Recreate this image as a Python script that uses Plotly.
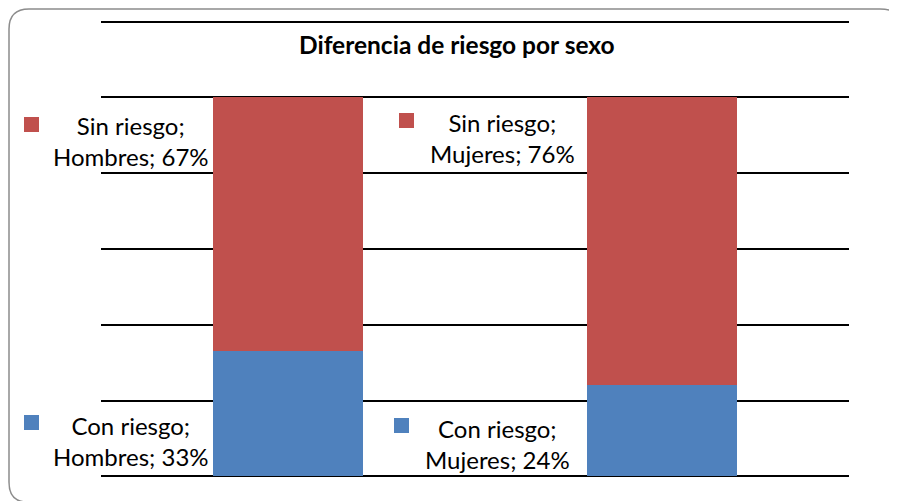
import plotly.graph_objects as go

categories = ["Hombres", "Mujeres"]
series_names = ["Con riesgo", "Sin riesgo"]
con_riesgo = [0.33, 0.24]
sin_riesgo = [0.67, 0.76]
title_text = "Diferencia de riesgo por sexo"

BLUE = "#4F81BD"
RED = "#C0504D"
FONT = "Lato"

OFF = 8  # default page body margin
W, H = 897 - OFF, 501 - OFF
L, R, T, B = 101 - OFF, 849 - OFF, 20 - OFF, 478 - OFF  # plot area in figure pixels


def px(x):
    """page pixel x -> paper coordinate"""
    return (x - OFF - L) / (R - L)


def py(y):
    """page pixel y -> paper coordinate"""
    return (B - (y - OFF)) / (B - T)


fig = go.Figure()
fig.add_trace(go.Bar(x=categories, y=con_riesgo, name=series_names[0],
                     marker=dict(color=BLUE, line=dict(width=0))))
fig.add_trace(go.Bar(x=categories, y=sin_riesgo, name=series_names[1],
                     marker=dict(color=RED, line=dict(width=0))))

shapes = []
# rounded chart border (only left side, top and corners fall inside the view)
path = (f"M {px(27)},{py(502)} Q {px(9)},{py(502)} {px(9)},{py(482)} "
        f"L {px(9)},{py(29)} Q {px(9)},{py(9)} {px(29)},{py(9)} "
        f"L {px(880)},{py(9)} Q {px(894)},{py(9)} {px(897)},{py(16)}")
shapes.append(dict(type="path", path=path, xref="paper", yref="paper",
                   line=dict(color="#8c8c8c", width=1.5), layer="below"))

annotations = []
# data labels with legend keys
label_specs = [
    # (series name, category, value, color, key x, key y, text center x, text center y) in page px
    (series_names[1], categories[0], sin_riesgo[0], RED, 24, 117, 131, 141),
    (series_names[1], categories[1], sin_riesgo[1], RED, 399, 113, 502, 138),
    (series_names[0], categories[0], con_riesgo[0], BLUE, 24, 415, 131, 441),
    (series_names[0], categories[1], con_riesgo[1], BLUE, 394, 418, 497, 444),
]
for name, cat, val, col, kx, ky, tx, ty in label_specs:
    shapes.append(dict(type="rect", xref="paper", yref="paper",
                       x0=px(kx), x1=px(kx + 15), y0=py(ky + 15), y1=py(ky),
                       fillcolor=col, line=dict(width=0)))
    annotations.append(dict(text=f"{name};<br>{cat}; {round(val * 100)}%",
                            xref="paper", yref="paper", x=px(tx), y=py(ty),
                            xanchor="center", yanchor="middle", align="center",
                            showarrow=False,
                            font=dict(family=FONT, size=24, color="black")))

annotations.append(dict(text=f"<b>{title_text}</b>", xref="paper", yref="paper",
                        x=px(457), y=py(45), xanchor="center", yanchor="middle",
                        showarrow=False,
                        font=dict(family=FONT, size=24.5, color="black")))

fig.update_layout(
    width=W, height=H,
    margin=dict(l=L, r=W - R, t=T, b=H - B, pad=0),
    paper_bgcolor="rgba(0,0,0,0)", plot_bgcolor="rgba(0,0,0,0)",
    barmode="stack", bargap=0.6,
    showlegend=False,
    xaxis=dict(showticklabels=False, showgrid=False, zeroline=False,
               showline=False, ticks="", fixedrange=True),
    yaxis=dict(range=[-0.004, 1.204], dtick=0.2, showgrid=True, gridcolor="black",
               gridwidth=1.8, showticklabels=False, zeroline=False,
               showline=False, ticks="", fixedrange=True),
    shapes=shapes, annotations=annotations,
)

fig.write_html("out.html", config={"displayModeBar": False})
